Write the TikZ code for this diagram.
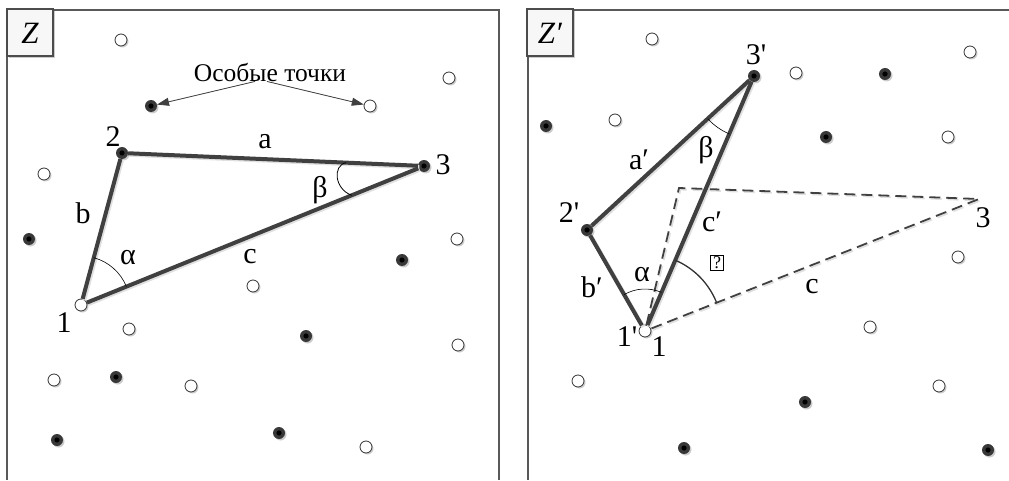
\documentclass[tikz,border=0pt]{standalone}
\usepackage{fontspec}
\setmainfont{Liberation Serif}
\usetikzlibrary{calc,shadows,arrows.meta}

\begin{document}
\begin{tikzpicture}[x=1pt, y=1pt,
    emptypt/.style={circle, draw=black!80, fill=white, line width=0.8pt, minimum size=12pt, inner sep=0pt,
        drop shadow={shadow xshift=1.5pt, shadow yshift=-1.5pt, fill=black, opacity=0.2}},
    fullpt/.style={circle, fill=black!78, minimum size=12pt, inner sep=0pt,
        path picture={\fill[black] (path picture bounding box.center) circle (2.6pt);},
        drop shadow={shadow xshift=1.5pt, shadow yshift=-1.5pt, fill=black, opacity=0.2}},
    side/.style={line width=4pt, draw=black!75,
        preaction={draw=black!12, line width=4pt, transform canvas={shift={(1.5pt,-1.5pt)}}}},
    ghost/.style={line width=1.8pt, draw=black!75, dash pattern=on 11pt off 6pt,
        preaction={draw=black!12, line width=1.8pt, dash pattern=on 11pt off 6pt, transform canvas={shift={(1.5pt,-1.5pt)}}}},
    lbl/.style={inner sep=0pt, font=\fontsize{30}{32}\selectfont},
    frame/.style={draw=black!65, line width=1.5pt},
    tag/.style={rectangle, draw=black!70, line width=2pt, fill=black!3, minimum width=46pt, minimum height=47pt,
        inner sep=0pt, font=\fontsize{31}{33}\selectfont\itshape,
        drop shadow={shadow xshift=1.5pt, shadow yshift=-1.5pt, fill=black, opacity=0.2}},
    pointer/.style={-{Triangle[length=12pt, width=8pt]}, line width=0.8pt, draw=black!75, fill=black!75}
]
    \useasboundingbox (0,0) rectangle (1009,480);

    % panels
    \draw[frame] (7,0) |- (499,470) -- (499,0);
    \draw[frame] (528,0) |- (1009,470);
    \node (zleft) [tag] at (30,447) {Z};
    \node (zright) [tag] at (550,447) {Z′};

    % left panel: scattered points
    \node (lo1) [emptypt] at (121,440) {};
    \node (lo2) [emptypt] at (449,402) {};
    \node (lo3) [emptypt] at (370,374) {};
    \node (lo4) [emptypt] at (44,306) {};
    \node (lo5) [emptypt] at (457,241) {};
    \node (lo6) [emptypt] at (253,194) {};
    \node (lo7) [emptypt] at (129,151) {};
    \node (lo8) [emptypt] at (458,135) {};
    \node (lo9) [emptypt] at (54,100) {};
    \node (lo10) [emptypt] at (191,94) {};
    \node (lo11) [emptypt] at (366,33) {};
    \node (lf1) [fullpt] at (151,374) {};
    \node (lf2) [fullpt] at (29,241) {};
    \node (lf3) [fullpt] at (402,220) {};
    \node (lf4) [fullpt] at (306,144) {};
    \node (lf5) [fullpt] at (116,103) {};
    \node (lf6) [fullpt] at (57,40) {};
    \node (lf7) [fullpt] at (279,47) {};

    % left triangle
    \node (v1) [emptypt] at (81,175) {};
    \node (v2) [fullpt] at (122,327) {};
    \node (v3) [fullpt] at (424,314) {};
    \draw[side] (v1) -- (v2);
    \draw[side] (v2) -- (v3);
    \draw[side] (v3) -- (v1);
    \draw[line width=0.6pt] ($(v1)+(22.1:49)$) arc[start angle=22.1, end angle=74.9, radius=49];
    \draw[line width=0.8pt] ($(v3)!78pt!(v2)$) .. controls +(-14,-3) and +(-17,6) .. ($(v3)!78pt!(v1)$);

    \node (n1) [lbl] at (64,157) {1};
    \node (n2) [lbl] at (113,343) {2};
    \node (n3) [lbl] at (443,315) {3};
    \node (sa) [lbl] at (265,338) {a};
    \node (sb) [lbl] at (83,267) {b};
    \node (sc) [lbl] at (250,223) {c};
    \node (ga) [lbl] at (128,222) {α};
    \node (gb) [lbl] at (320,290) {β};

    \node (note) [lbl, font=\fontsize{25.5}{27}\selectfont] at (270,408) {Особые точки};
    \draw[pointer] ([xshift=-15pt]note.south) -- (lf1);
    \draw[pointer] ([xshift=-3pt]note.south) -- (lo3);

    % right panel: scattered points
    \node (ro1) [emptypt] at (652,441) {};
    \node (ro2) [emptypt] at (970,428) {};
    \node (ro3) [emptypt] at (796,407) {};
    \node (ro4) [emptypt] at (615,360) {};
    \node (ro5) [emptypt] at (948,343) {};
    \node (ro6) [emptypt] at (958,223) {};
    \node (ro7) [emptypt] at (870,153) {};
    \node (ro8) [emptypt] at (578,99) {};
    \node (ro9) [emptypt] at (939,94) {};
    \node (rf1) [fullpt] at (885,406) {};
    \node (rf2) [fullpt] at (546,354) {};
    \node (rf3) [fullpt] at (826,343) {};
    \node (rf4) [fullpt] at (805,78) {};
    \node (rf5) [fullpt] at (684,32) {};
    \node (rf6) [fullpt] at (988,30) {};

    % right triangle, old triangle dashed
    \node (w1) [emptypt] at (645,149) {};
    \node (w2) [fullpt] at (587,250) {};
    \node (w3) [fullpt] at (754,404) {};
    \coordinate (d2) at (679,292);
    \coordinate (d3) at (979,281);
    \draw[ghost] (w1) -- (d2) -- (d3) -- (w1);
    \draw[side] (w1) -- (w2);
    \draw[side] (w2) -- (w3);
    \draw[side] (w3) -- (w1);
    \draw[line width=0.6pt] ($(w1)+(67:42)$) arc[start angle=67, end angle=120, radius=42];
    \draw[line width=0.6pt] ($(w3)+(222.7:63)$) arc[start angle=222.7, end angle=246.9, radius=63];
    \draw[line width=1.3pt, draw=black!80] ($(w1)+(21.6:77)$) arc[start angle=21.6, end angle=66.9, radius=77];

    \node (m1) [lbl] at (659,133) {1};
    \node (m1p) [lbl] at (627,143) {1\textquotesingle};
    \node (m2p) [lbl] at (569,267) {2\textquotesingle};
    \node (m3p) [lbl] at (756,425) {3\textquotesingle};
    \node (m3) [lbl] at (983,262) {3};
    \node (ta) [lbl] at (639,320) {a′};
    \node (tb) [lbl] at (592,193) {b′};
    \node (tc) [lbl] at (712,258) {c′};
    \node (tcold) [lbl] at (812,193) {c};
    \node (ha) [lbl] at (642,205) {α};
    \node (hb) [lbl] at (706,330) {β};
    \node (hq) [draw, line width=0.7pt, inner sep=1.5pt, minimum width=13pt, minimum height=14pt,
        font=\fontsize{18}{18}\selectfont] at (717,217) {?};
\end{tikzpicture}
\end{document}
